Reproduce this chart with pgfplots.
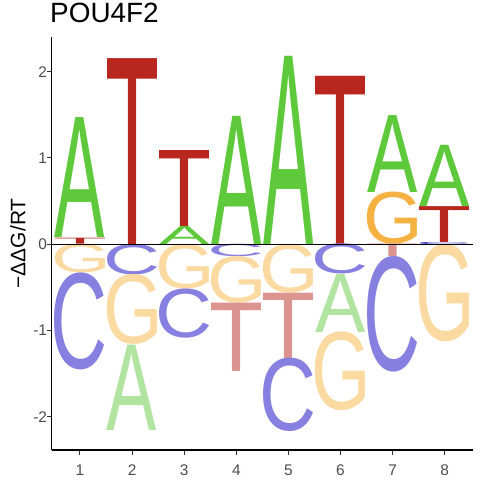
\documentclass[border=0pt]{standalone}
\usepackage{fontspec}
\setmainfont{Liberation Sans}
\newfontfamily\logofont{Liberation Sans}
\usepackage{graphicx}
\usepackage{pgfplots}
\usepackage{pgfplotstable}
\pgfplotsset{compat=1.18}

\definecolor{pA}{RGB}{93,201,59}
\definecolor{pT}{RGB}{185,38,30}
\definecolor{pG}{RGB}{245,177,65}
\definecolor{pC}{RGB}{10,10,185}
\definecolor{nA}{RGB}{176,228,160}
\definecolor{nT}{RGB}{220,148,144}
\definecolor{nG}{RGB}{250,218,160}
\definecolor{nC}{RGB}{136,128,224}
\definecolor{tickgray}{RGB}{77,77,77}
\definecolor{tickline}{RGB}{51,51,51}

\pgfplotstableread{
x y0 y1 L c
1 0 0.073 T pT
1 0.073 1.464 A pA
1 -0.335 0 G nG
1 -1.459 -0.335 C nC
2 0 2.155 T pT
2 -0.353 0 C nC
2 -1.165 -0.353 G nG
2 -2.155 -1.165 A nA
3 0 0.211 A pA
3 0.211 1.092 T pT
3 -0.52 0 G nG
3 -1.091 -0.52 C nC
4 0 1.486 A pA
4 -0.145 0 C nC
4 -0.685 -0.145 G nG
4 -1.478 -0.685 T nT
5 0 2.182 A pA
5 -0.566 0 G nG
5 -1.323 -0.566 T nT
5 -2.174 -1.323 C nC
6 0 1.95 T pT
6 -0.35 0 C nC
6 -1.022 -0.35 A nA
6 -1.934 -1.022 G nG
7 0 0.605 G pG
7 0.605 1.497 A pA
7 -0.145 0 T nT
7 -1.486 -0.145 C nC
8 0 0.024 C pC
8 0.024 0.44 T pT
8 0.44 1.15 A pA
8 -1.13 0 G nG
}\logo

\pgfplotstablegetrowsof{\logo}
\pgfmathtruncatemacro\nmax{\pgfplotsretval-1}

\newcommand\logoletter[2]{%
  \setbox0=\hbox{\logofont\fontsize{50}{50}\selectfont
    \kern-\XeTeXglyphbounds1 \XeTeXcharglyph`#2\relax
    #2%
    \kern-\XeTeXglyphbounds3 \XeTeXcharglyph`#2\relax}%
  \resizebox*{50bp}{#1bp}{\box0}}

\begin{document}
\begin{tikzpicture}
\useasboundingbox (0,0) rectangle (480bp,480bp);
\begin{axis}[
  at={(51.7bp,30bp)}, anchor=south west,
  scale only axis, width=421.3bp, height=413.3bp,
  xmin=0.457, xmax=8.543, ymin=-2.386, ymax=2.406,
  clip=false,
  axis lines*=left,
  axis line style={black, line width=1.4bp, -},
  xtick={1,2,3,4,5,6,7,8},
  ytick={-2,-1,0,1,2},
  tick align=outside,
  major tick length=4.5bp,
  tick style={tickline, line width=1bp},
  /pgf/number format/assume math mode=true,
  ticklabel style={font=\fontsize{15.5}{15.5}\selectfont, text=tickgray},
  xticklabel style={anchor=base, inner sep=0pt, yshift=-21bp},
  yticklabel style={anchor=east, inner sep=0pt},
  title={POU4F2},
  title style={at={(rel axis cs:-0.004,1.0203)}, anchor=base west, inner sep=0pt, font=\fontsize{28}{28}\selectfont},
  ylabel={−ΔΔG/RT},
  ylabel style={at={(rel axis cs:-0.0622,0.5)}, anchor=base, inner sep=0pt, font=\fontsize{21}{21}\selectfont},
]
\pgfplotsforeachungrouped \i in {0,...,\nmax}{%
  \pgfplotstablegetelem{\i}{x}\of\logo \let\lx\pgfplotsretval
  \pgfplotstablegetelem{\i}{y0}\of\logo \let\lya\pgfplotsretval
  \pgfplotstablegetelem{\i}{y1}\of\logo \let\lyb\pgfplotsretval
  \pgfplotstablegetelem{\i}{L}\of\logo \let\lL\pgfplotsretval
  \pgfplotstablegetelem{\i}{c}\of\logo \let\lc\pgfplotsretval
  \pgfmathsetmacro\lh{(\lyb-\lya)*86.25}%
  \edef\tmp{\noexpand\node[anchor=south, inner sep=0pt, outer sep=0pt, text=\lc] at (axis cs:\lx,\lya) {\noexpand\logoletter{\lh}{\lL}};}%
  \tmp
}
\addplot[black, line width=1bp, forget plot] coordinates {(0.457,0) (8.543,0)};
\end{axis}
\end{tikzpicture}
\end{document}
